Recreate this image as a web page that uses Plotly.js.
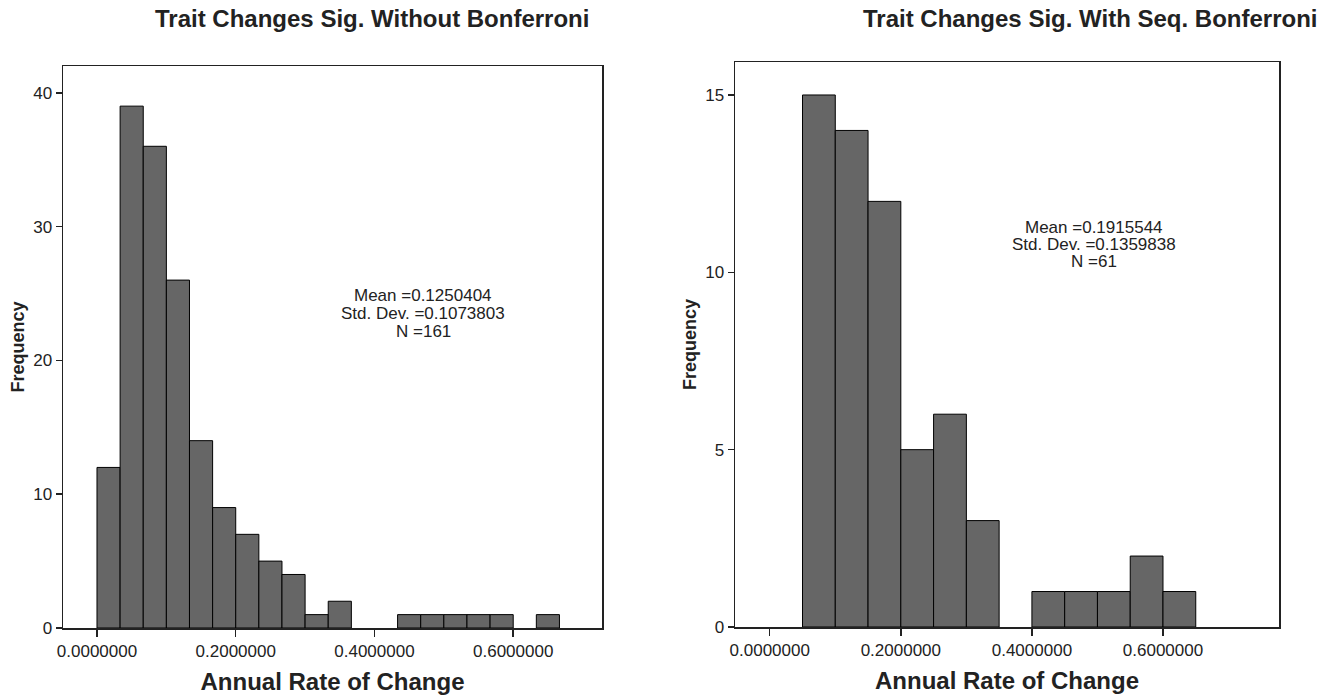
<!DOCTYPE html>
<html>
<head>
<meta charset="utf-8">
<script src="https://cdn.plot.ly/plotly-3.0.1.min.js"></script>
<style>html,body{margin:0;padding:0;background:#fff;}#chart{width:1337px;height:695px;}</style>
</head>
<body>
<div id="chart"></div>
<script>
// Left histogram: bin left edges and frequencies (bin width 1/30)
const leftBinStarts = [0, 0.0333333, 0.0666667, 0.1, 0.1333333, 0.1666667, 0.2, 0.2333333, 0.2666667, 0.3, 0.3333333, 0.3666667, 0.4, 0.4333333, 0.4666667, 0.5, 0.5333333, 0.5666667, 0.6, 0.6333333];
const leftCounts = [12, 39, 36, 26, 14, 9, 7, 5, 4, 1, 2, 0, 0, 1, 1, 1, 1, 1, 0, 1];
const leftBinWidth = 0.0333333;

// Right histogram: bin left edges and frequencies (bin width 0.05)
const rightBinStarts = [0.0, 0.05, 0.1, 0.15, 0.2, 0.25, 0.3, 0.35, 0.4, 0.45, 0.5, 0.55, 0.6];
const rightCounts = [0, 15, 14, 12, 5, 6, 3, 0, 1, 1, 1, 2, 1];
const rightBinWidth = 0.05;

const xTickVals = [0, 0.2, 0.4, 0.6];
const leftYTicks = [0, 10, 20, 30, 40];
const rightYTicks = [0, 5, 10, 15];

const titles = ["Trait Changes Sig. Without Bonferroni", "Trait Changes Sig. With Seq. Bonferroni"];
const xTitle = "Annual Rate of Change";
const yTitle = "Frequency";
const leftStats = ["Mean =0.1250404", "Std. Dev. =0.1073803", "N =161"];
const rightStats = ["Mean =0.1915544", "Std. Dev. =0.1359838", "N =61"];

const centers = (starts, w) => starts.map(s => s + w / 2);
const outline = counts => counts.map(c => c > 0 ? 1 : 0);

const traces = [
  {type: 'bar', x: centers(leftBinStarts, leftBinWidth), y: leftCounts, width: leftBinWidth,
   marker: {color: '#666666', line: {color: '#000000', width: outline(leftCounts)}},
   xaxis: 'x', yaxis: 'y', hoverinfo: 'x+y'},
  {type: 'bar', x: centers(rightBinStarts, rightBinWidth), y: rightCounts, width: rightBinWidth,
   marker: {color: '#666666', line: {color: '#000000', width: outline(rightCounts)}},
   xaxis: 'x2', yaxis: 'y2', hoverinfo: 'x+y'}
];

const font = 'Liberation Sans, Arial, sans-serif';
const tickFont = {family: font, size: 17, color: '#222'};
const axTitleFont = {family: font, size: 24, color: '#222', weight: 'bold'};
const yTitleFont = {family: font, size: 18, color: '#222', weight: 'bold'};
const titleFont = {family: font, size: 24, color: '#222', weight: 'bold'};
const statFont = {family: font, size: 17, color: '#222'};

function xAxis(domain, range, anchor) {
  return {domain: domain, range: range, tickvals: xTickVals, tickformat: '.7f', anchor: anchor,
    ticks: 'outside', ticklen: 7, tickcolor: '#222', tickwidth: 1.5,
    showline: true, linecolor: '#222', linewidth: 1.5, mirror: true,
    showgrid: false, zeroline: false, tickfont: tickFont,
    title: {text: xTitle, font: axTitleFont, standoff: 13}};
}
function yAxis(domain, range, tv, anchor) {
  return {domain: domain, range: range, tickvals: tv, anchor: anchor,
    ticks: 'outside', ticklen: 6, tickcolor: '#222', tickwidth: 1.5,
    showline: true, linecolor: '#222', linewidth: 1.5, mirror: true,
    showgrid: false, zeroline: false, tickfont: tickFont,
    title: {text: yTitle, font: yTitleFont, standoff: 4}};
}

const annotations = [
  {text: titles[0], x: 372, y: 18, font: titleFont},
  {text: titles[1], x: 1090, y: 18, font: titleFont}
];
const statLineY = [0, 17.5, 35];
leftStats.forEach((t, i) => annotations.push({text: t, x: 423, y: 296 + statLineY[i], font: statFont}));
rightStats.forEach((t, i) => annotations.push({text: t, x: 1094, y: 227 + statLineY[i], font: statFont}));
annotations.forEach(a => Object.assign(a, {
  xref: 'paper', yref: 'paper', x: a.x / 1337, y: 1 - a.y / 695,
  showarrow: false, xanchor: 'center', yanchor: 'middle', align: 'center'
}));

const layout = {
  width: 1337, height: 695,
  margin: {l: 0, r: 0, t: 0, b: 0},
  paper_bgcolor: '#fff', plot_bgcolor: '#fff',
  showlegend: false, bargap: 0,
  xaxis: xAxis([63/1337, 602/1337], [-0.049, 0.728], 'y'),
  yaxis: yAxis([67/695, 629/695], [0, 42], leftYTicks, 'x'),
  xaxis2: xAxis([735/1337, 1279/1337], [-0.053, 0.777], 'y2'),
  yaxis2: yAxis([68/695, 633/695], [0, 15.93], rightYTicks, 'x2'),
  annotations: annotations
};

Plotly.newPlot('chart', traces, layout, {displayModeBar: false, staticPlot: true});
</script>
</body>
</html>
